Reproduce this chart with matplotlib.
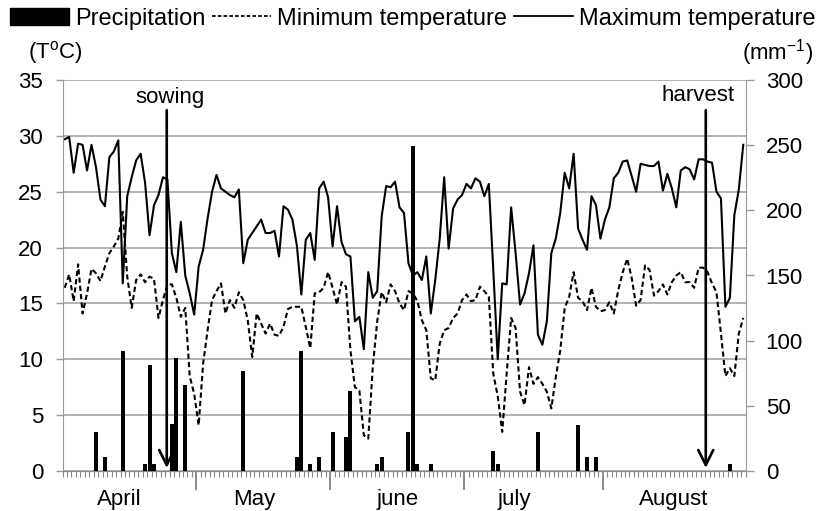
# Temperatura diaria (max / min) y precipitacion, abril - agosto
import numpy as np
import matplotlib.pyplot as plt
from matplotlib.patches import Patch
from matplotlib.lines import Line2D

plt.rcParams['font.family'] = ['Liberation Sans', 'DejaVu Sans']

# temperatura maxima diaria (C), un valor por dia
tmax = [
    29.7, 29.9, 26.7, 29.3, 29.2, 26.9, 29.2, 27.2, 24.3, 23.7,
    28.1, 28.6, 29.6, 16.8, 24.6, 26.3, 27.8, 28.4, 25.8, 21.1,
    23.8, 24.7, 26.3, 26.1, 19.5, 17.8, 22.3, 17.5, 15.9, 14.0,
    18.3, 19.8, 22.6, 25.0, 26.5, 25.3, 25.0, 24.7, 24.5, 25.2,
    18.6, 20.7, 21.3, 21.9, 22.5, 21.3, 21.3, 21.5, 19.2, 23.7,
    23.4, 22.5, 20.2, 15.8, 20.7, 21.3, 18.9, 25.3, 25.9, 24.5,
    20.1, 23.7, 20.5, 19.4, 19.2, 13.4, 13.8, 10.9, 17.8, 15.5,
    16.1, 22.8, 25.5, 25.4, 25.9, 23.6, 23.1, 18.6, 17.5, 17.8,
    17.1, 19.2, 14.1, 17.1, 20.8, 26.3, 19.9, 23.5, 24.3, 24.7,
    25.7, 25.3, 26.2, 25.9, 24.6, 25.7, 18.0, 10.0, 16.8, 16.7,
    23.6, 19.5, 14.9, 15.9, 17.7, 20.2, 12.2, 11.3, 13.4, 19.5,
    20.8, 23.1, 26.7, 25.3, 28.4, 21.7, 20.7, 19.8, 24.6, 23.8,
    20.8, 22.5, 23.6, 26.2, 26.7, 27.7, 27.8, 26.4, 25.0, 27.5,
    27.4, 27.3, 27.3, 27.7, 25.1, 26.6, 25.3, 23.6, 26.9, 27.2,
    27.0, 26.1, 27.9, 27.9, 27.7, 27.6, 25.0, 24.4, 14.7, 15.5,
    22.9, 25.2, 29.2]

# temperatura minima diaria (C)
tmin = [
    16.4, 17.6, 15.2, 18.5, 14.1, 15.9, 18.1, 17.7, 17.0, 18.3,
    19.5, 20.1, 20.8, 23.2, 17.4, 14.6, 17.1, 17.6, 16.9, 17.4,
    17.2, 13.7, 15.3, 16.7, 16.7, 15.5, 13.8, 14.6, 8.5, 6.9,
    4.1, 9.6, 12.6, 15.3, 16.1, 16.8, 14.1, 15.3, 14.6, 16.0,
    15.3, 13.5, 10.2, 14.1, 13.2, 12.3, 13.2, 12.2, 12.1, 12.9,
    14.5, 14.7, 14.7, 14.7, 12.9, 11.0, 15.9, 16.0, 16.4, 17.8,
    16.4, 14.9, 16.9, 16.5, 10.8, 7.5, 7.2, 3.2, 2.9, 9.3,
    13.4, 16.0, 15.1, 16.7, 16.1, 15.0, 14.4, 16.1, 15.9, 15.2,
    13.5, 12.6, 8.3, 8.1, 11.4, 12.6, 12.8, 13.7, 14.1, 15.3,
    15.8, 15.2, 15.3, 16.5, 16.1, 15.6, 8.7, 6.7, 3.5, 8.7,
    13.7, 12.8, 7.1, 5.9, 9.3, 7.8, 8.4, 7.8, 7.1, 5.6,
    8.4, 10.8, 14.6, 15.6, 17.8, 15.5, 15.2, 14.4, 16.4, 14.7,
    14.3, 14.4, 15.1, 14.1, 16.2, 17.8, 19.0, 17.3, 14.8, 15.3,
    18.4, 18.0, 15.7, 16.1, 16.7, 15.8, 16.9, 17.5, 17.8, 16.9,
    16.9, 16.4, 18.2, 18.2, 17.8, 16.8, 16.0, 12.3, 8.5, 9.2,
    8.5, 12.3, 13.7]

# dias con lluvia y precipitacion (mm)
rain_day = [7, 9, 13, 18, 19, 20, 24, 25, 27, 40, 52, 53, 55, 57, 60,
            63, 64, 70, 71, 77, 78, 79, 82, 96, 97, 106, 115, 117, 119, 149]
rain_mm = [30, 10.5, 92, 5, 81, 5, 36, 86.5, 66, 76.5, 10.5, 92, 5, 10.5, 30,
           26, 61, 5, 10.5, 30, 249, 5, 5, 15, 5, 30, 35.5, 10.5, 10.5, 5]

# meses
month_names = ['April', 'May', 'june', 'july', 'August']
month_label_day = [12.2, 42.5, 74.6, 100.8, 136.4]
month_edges = [29.5, 59.5, 89.5, 120.5]

# siembra y cosecha
sowing_day = 22.85
harvest_day = 143.6

days = np.arange(len(tmax))

fig = plt.figure(figsize=(8.21, 5.11), dpi=100)
ax = fig.add_axes([62.5 / 821, 40 / 511, 683 / 821, 391 / 511])
ax2 = ax.twinx()

# lineas de temperatura
ax.plot(days, tmax, color='black', lw=1.5)
ax.plot(days, tmin, color='black', lw=1.5, ls=(0, (2.5, 1.5)))

# barras de precipitacion en el eje derecho
ax2.bar(rain_day, rain_mm, width=0.9, color='black')

ax.set_xlim(-0.5, len(tmax) - 0.5)
ax.set_ylim(0, 35)
ax2.set_ylim(0, 300)
ax.set_yticks(np.arange(0, 36, 5))
ax2.set_yticks(np.arange(0, 301, 50))

ax.yaxis.grid(True, color='#a6a6a6', lw=1.2)
ax.set_xticks(month_edges)
ax.set_xticks(np.arange(-0.5, len(tmax), 1), minor=True)
ax.tick_params(axis='x', which='major', direction='out', length=14, width=1.2,
               color='#777777', labelbottom=False)
ax.tick_params(axis='x', which='minor', direction='out', length=4.5, width=0.8,
               color='#888888')
ax.tick_params(axis='y', direction='out', length=5, width=1, color='#999999',
               labelsize=16, pad=9)
ax2.tick_params(axis='y', direction='out', length=5.5, width=1, color='#999999',
                labelsize=16, pad=9)

for s in ['top', 'right']:
    ax.spines[s].set_visible(False)
for s in ['top', 'left', 'bottom']:
    ax2.spines[s].set_visible(False)
ax.spines['left'].set_color('#999999')
ax.spines['bottom'].set_color('#888888')
ax2.spines['right'].set_color('#999999')

# nombres de los meses
for name, d in zip(month_names, month_label_day):
    ax.text(d, -0.086, name, transform=ax.get_xaxis_transform(),
            ha='center', va='baseline', fontsize=16)

# flechas de siembra y cosecha
arrow = dict(arrowstyle='->,head_length=0.6,head_width=0.3', mutation_scale=18,
             lw=1.9, color='black', shrinkA=0, shrinkB=0)
ax.annotate('', xy=(sowing_day, 0.27), xytext=(sowing_day, 32.3), arrowprops=arrow)
ax.annotate('', xy=(harvest_day, 0.27), xytext=(harvest_day, 32.3), arrowprops=arrow)
ax.text(23.6, 32.94, 'sowing', ha='center', va='baseline', fontsize=16)
ax.text(141.9, 33.15, 'harvest', ha='center', va='baseline', fontsize=16)

# unidades
fig.text(55 / 821, 1 - 53 / 511, r'(T$^{\mathregular{o}}$C)', ha='center',
         va='center', fontsize=16)
fig.text(778 / 821, 1 - 53 / 511, r'(mm$^{\mathregular{-1}}$)', ha='center',
         va='center', fontsize=16)

# leyenda
handles = [Patch(facecolor='black', edgecolor='black'),
           Line2D([], [], color='black', lw=1.3, ls=(0, (2, 1.2))),
           Line2D([], [], color='black', lw=1.3)]
labels = ['Precipitation', 'Minimum temperature', 'Maximum temperature']
fig.legend(handles, labels, ncol=3, loc='upper center',
           bbox_to_anchor=(0.503, 0.985), frameon=False, fontsize=17,
           handlelength=2.5, handletextpad=0.25, columnspacing=0.3,
           borderpad=0, borderaxespad=0)

fig.savefig('out.png', dpi=100)
